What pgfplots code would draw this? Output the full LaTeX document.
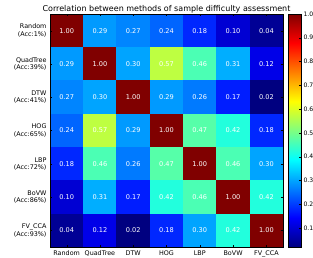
\documentclass[border=0pt]{standalone}
\usepackage{pgfplots}
\pgfplotsset{compat=1.18}
\usepackage{fontspec}
\setmainfont{DejaVu Sans}
\pgfplotstableread{
x y v
0 0 1.00
1 0 0.29
2 0 0.27
3 0 0.24
4 0 0.18
5 0 0.10
6 0 0.04
0 1 0.29
1 1 1.00
2 1 0.30
3 1 0.57
4 1 0.46
5 1 0.31
6 1 0.12
0 2 0.27
1 2 0.30
2 2 1.00
3 2 0.29
4 2 0.26
5 2 0.17
6 2 0.02
0 3 0.24
1 3 0.57
2 3 0.29
3 3 1.00
4 3 0.47
5 3 0.42
6 3 0.18
0 4 0.18
1 4 0.46
2 4 0.26
3 4 0.47
4 4 1.00
5 4 0.46
6 4 0.30
0 5 0.10
1 5 0.31
2 5 0.17
3 5 0.42
4 5 0.46
5 5 1.00
6 5 0.42
0 6 0.04
1 6 0.12
2 6 0.02
3 6 0.18
4 6 0.30
5 6 0.42
6 6 1.00
}\corrtable
\begin{document}
\begin{tikzpicture}
\useasboundingbox (0,0) rectangle (313pt,-257pt);
\begin{axis}[
  at={(50pt,-14pt)}, anchor=north west,
  scale only axis, width=233pt, height=233pt,
  xmin=-0.5, xmax=6.5, ymin=-0.5, ymax=6.5, y dir=reverse,
  axis on top,
  xtick={0,...,6},
  xticklabels={Random,QuadTree,DTW,HOG,LBP,BoVW,FV\_CCA},
  ytick={0,...,6},
  yticklabels={{Random\\(Acc:1\%)},{QuadTree\\(Acc:39\%)},{DTW\\(Acc:41\%)},{HOG\\(Acc:65\%)},{LBP\\(Acc:72\%)},{BoVW\\(Acc:86\%)},{FV\_CCA\\(Acc:93\%)}},
  yticklabel style={align=right, font=\fontsize{6.4}{7.4}\selectfont},
  xticklabel style={font=\fontsize{6.4}{7.4}\selectfont},
  tick align=inside, major tick length=2pt, tick style={black},
  colormap/jet,
  point meta min=0.02, point meta max=1.0,
  title={Correlation between methods of sample difficulty assessment},
  title style={font=\fontsize{8}{9}\selectfont, at={(0.5,1)}, anchor=base, yshift=-3.5pt},
  colorbar right,
  colorbar style={
    at={(parent axis.north east)}, anchor=north west, xshift=-3.5pt,
    width=13pt,
    ytick={0.1,0.2,0.3,0.4,0.5,0.6,0.7,0.8,0.9,1.0},
    yticklabel style={font=\fontsize{6.1}{7}\selectfont, xshift=-1pt, /pgf/number format/.cd, fixed, fixed zerofill, precision=1, assume math mode=true},
    tick align=inside, major tick length=2pt, tick style={black},
    ytick pos=right,
  },
  nodes near coords={\pgfmathprintnumber[fixed,fixed zerofill,precision=2,assume math mode=true]{\pgfplotspointmeta}},
  nodes near coords style={anchor=center, text=white, font=\fontsize{6.6}{7}\selectfont},
]
\addplot[matrix plot*, mesh/cols=7, mesh/ordering=x varies, point meta=explicit] table[x=x, y=y, meta=v] {\corrtable};
\end{axis}
\end{tikzpicture}
\end{document}
